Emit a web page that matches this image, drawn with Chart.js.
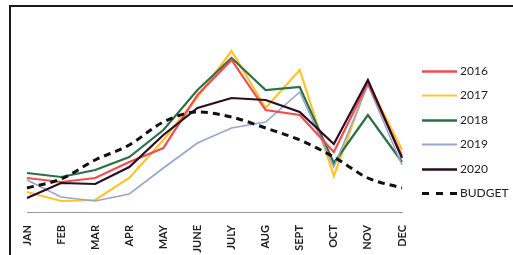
<!DOCTYPE html>
<html>
<head>
<meta charset="utf-8">
<script src="https://cdn.jsdelivr.net/npm/chart.js@4"></script>
<style>
  html, body { margin: 0; padding: 0; background: #fff; }
  #wrap { position: relative; width: 513px; height: 255px; overflow: hidden; }
  #frame { position: absolute; left: 9px; top: 5px; width: 520px; height: 300px; border: 2px solid #1a1a1a; box-sizing: border-box; }
  canvas { position: absolute; left: 0; top: 0; }
</style>
</head>
<body>
<div id="wrap">
  <div id="frame"></div>
  <canvas id="c" width="513" height="255"></canvas>
</div>
<script>
const months = ['JAN','FEB','MAR','APR','MAY','JUNE','JULY','AUG','SEPT','OCT','NOV','DEC'];
const s2016 = [17, 15, 17, 25, 32, 58.5, 76, 51, 48.5, 30, 64.5, 28];
const s2017 = [10, 5.5, 6, 17, 36, 57.5, 80.5, 52, 71, 18, 65, 31];
const s2018 = [19.5, 17.5, 21, 27.5, 41, 61, 77, 61, 62.5, 24.5, 48.5, 25];
const s2019 = [16, 7.5, 5.5, 9, 22, 34.5, 42, 45, 60, 22.5, 63.5, 23.5];
const s2020 = [7, 14.5, 14, 22.5, 38.5, 52, 57, 56, 50, 34, 66, 27];
const budget = [12, 16.5, 26, 33.5, 45, 50, 47.5, 42, 36, 27.5, 17, 12];

const legendPlugin = {
  id: 'customLegend',
  afterDraw(chart) {
    const ctx = chart.ctx;
    const items = chart.data.datasets.map(d => d).sort((a, b) => a.legendIndex - b.legendIndex);
    const x0 = 422, x1 = 457, y0 = 71, step = 24.4;
    ctx.save();
    items.forEach((d, i) => {
      const y = Math.round(y0 + i * step) + 0.5;
      ctx.beginPath();
      ctx.strokeStyle = d.borderColor;
      ctx.lineWidth = d.legendWidth;
      ctx.setLineDash(d.borderDash ? [7, 7] : []);
      ctx.moveTo(x0, y);
      ctx.lineTo(x1, y);
      ctx.stroke();
      ctx.setLineDash([]);
      ctx.fillStyle = '#222';
      ctx.font = '12px Lato';
      ctx.textBaseline = 'middle';
      ctx.textAlign = 'left';
      ctx.fillText(d.label, 460, y);
    });
    ctx.restore();
  }
};

new Chart(document.getElementById('c'), {
  type: 'line',
  data: {
    labels: months,
    datasets: [
      { label: 'BUDGET', data: budget, borderColor: '#111', borderWidth: 3, borderDash: [7, 5], tension: 0.4, cubicInterpolationMode: 'monotone', order: 0, legendIndex: 5, legendWidth: 3 },
      { label: '2020', data: s2020, borderColor: '#2b0b26', borderWidth: 2.2, order: 1, legendIndex: 4, legendWidth: 2.5 },
      { label: '2016', data: s2016, borderColor: '#f04e4e', borderWidth: 2.2, order: 2, legendIndex: 0, legendWidth: 2.5 },
      { label: '2019', data: s2019, borderColor: '#95a6cf', borderWidth: 1.6, order: 3, legendIndex: 3, legendWidth: 2 },
      { label: '2018', data: s2018, borderColor: '#2d7048', borderWidth: 2.2, order: 4, legendIndex: 2, legendWidth: 2.5 },
      { label: '2017', data: s2017, borderColor: '#ffc32e', borderWidth: 2.2, order: 5, legendIndex: 1, legendWidth: 2 }
    ]
  },
  options: {
    responsive: false,
    animation: false,
    events: [],
    elements: { point: { radius: 0 }, line: { tension: 0, borderCapStyle: 'butt', borderJoinStyle: 'miter' } },
    layout: { padding: { left: 27, right: 111, top: 12, bottom: 0 } },
    plugins: { legend: { display: false }, tooltip: { enabled: false } },
    scales: {
      x: {
        offset: false,
        grid: { display: false },
        border: { display: true, color: '#999', width: 1 },
        ticks: { color: '#222', font: { family: 'Lato', size: 11, weight: 'bold' }, minRotation: 90, maxRotation: 90, padding: 5, autoSkip: false },
        afterFit(scale) { scale.height = 43; }
      },
      y: { display: false, min: 0, max: 100 }
    }
  },
  plugins: [legendPlugin]
});
</script>
</body>
</html>
